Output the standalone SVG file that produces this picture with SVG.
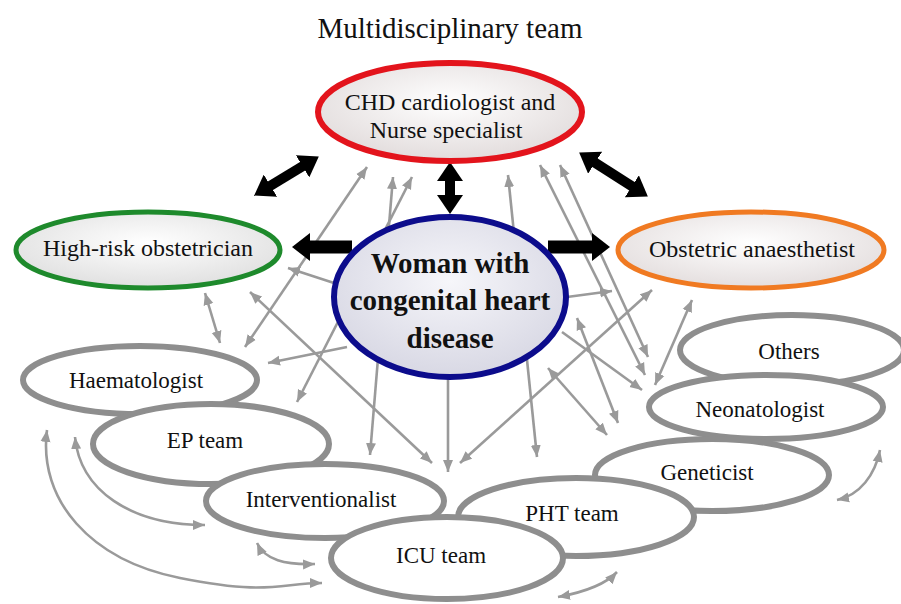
<svg xmlns="http://www.w3.org/2000/svg" width="901" height="604" viewBox="0 0 901 604">
<style>
text{font-family:"Liberation Serif","Times New Roman",serif;fill:#111;text-anchor:middle}
.lbl{font-size:24px}
.gl{font-size:23px}
.main{font-size:29px;font-weight:bold}
.g{fill:none;stroke:#9a9a9a;stroke-width:2.6}
.gn{fill:#ffffff;stroke:#8e8e8e;stroke-width:6}
.bk{fill:none;stroke:#000;stroke-width:10}
.bk2{fill:none;stroke:#000;stroke-width:13}
</style>
<defs>
<radialGradient id="fillR" cx="50%" cy="40%" r="60%"><stop offset="0" stop-color="#ffffff"/><stop offset="1" stop-color="#e2dcdc"/></radialGradient>
<radialGradient id="fillG" cx="50%" cy="40%" r="60%"><stop offset="0" stop-color="#ffffff"/><stop offset="1" stop-color="#e0e0e0"/></radialGradient>
<radialGradient id="fillO" cx="50%" cy="40%" r="60%"><stop offset="0" stop-color="#ffffff"/><stop offset="1" stop-color="#e4dede"/></radialGradient>
<radialGradient id="fillB" cx="50%" cy="40%" r="60%"><stop offset="0" stop-color="#f6f6fa"/><stop offset="1" stop-color="#d8d8e4"/></radialGradient>
<marker id="gh" viewBox="0 -5.5 12 11" refX="12" refY="0" markerWidth="12" markerHeight="11" markerUnits="userSpaceOnUse" orient="auto-start-reverse"><path d="M0,-5 L12,0 L0,5 z" fill="#9a9a9a"/></marker>
<marker id="bh" viewBox="-1 -13 19 26" refX="0" refY="0" markerWidth="19" markerHeight="26" markerUnits="userSpaceOnUse" orient="auto-start-reverse"><path d="M-1,-13 L18,0 L-1,13 z" fill="#000"/></marker>
<marker id="bh2" viewBox="-1 -14 18 28" refX="0" refY="0" markerWidth="18" markerHeight="28" markerUnits="userSpaceOnUse" orient="auto-start-reverse"><path d="M-1,-14 L17,0 L-1,14 z" fill="#000"/></marker>
</defs>
<rect width="901" height="604" fill="#ffffff"/>
<text x="450" y="38" style="font-size:29px">Multidisciplinary team</text>
<g id="connectors">
<g marker-start="url(#gh)" marker-end="url(#gh)">
<path class="g" d="M367,167 L245,347"/>
<path class="g" d="M205,293 L220,343"/>
<path class="g" d="M250,292 L432,463"/>
<path class="g" d="M412,177 L297,402"/>
<path class="g" d="M393,177 L370,455"/>
<path class="g" d="M508,175 L537,457"/>
<path class="g" d="M540,165 L645,375"/>
<path class="g" d="M560,165 L648,357"/>
<path class="g" d="M652,290 L460,463"/>
<path class="g" d="M692,300 L655,385"/>
<path class="g" d="M577,318 L618,423"/>
<path class="g" d="M548,368 L607,435"/>
<path class="g" d="M47,430 C38,500 90,560 180,578 S280,583 322,583"/>
<path class="g" d="M75,437 C80,490 130,525 205,525"/>
<path class="g" d="M257,543 C265,560 285,565 315,564"/>
<path class="g" d="M558,597 C585,592 605,585 617,572"/>
<path class="g" d="M837,500 C860,495 875,475 880,450"/>
</g>
<g marker-end="url(#gh)">
<path class="g" d="M334,283 L288,268"/>
<path class="g" d="M347,347 L268,363"/>
<path class="g" d="M567,297 L612,291"/>
<path class="g" d="M562,332 L642,390"/>
<path class="g" d="M448,378 L448,472"/>
</g>
<path class="bk" d="M303.4,165.8 L269.6,186.2" marker-start="url(#bh)" marker-end="url(#bh)"/>
<path class="bk" d="M594.3,162.2 L632.7,186.8" marker-start="url(#bh)" marker-end="url(#bh)"/>
<path class="bk" d="M450,180 L450,196" marker-start="url(#bh)" marker-end="url(#bh)"/>
<path class="bk2" d="M352,247 L309,247" marker-end="url(#bh2)"/>
<path class="bk2" d="M548,247 L593,247" marker-end="url(#bh2)"/>
</g>
<g id="node-chd">
<ellipse cx="450" cy="112" rx="132" ry="49" fill="url(#fillR)" stroke="#e3141c" stroke-width="6"/>
<text class="lbl" x="450" y="110">CHD cardiologist and</text>
<text class="lbl" x="446" y="138">Nurse specialist</text>
</g>
<g id="node-highrisk">
<ellipse cx="148" cy="250" rx="132" ry="38" fill="url(#fillG)" stroke="#1e8a2c" stroke-width="5"/>
<text class="lbl" x="148" y="256">High-risk obstetrician</text>
</g>
<g id="node-anaesthetist">
<ellipse cx="751" cy="250" rx="133" ry="38" fill="url(#fillO)" stroke="#f07a22" stroke-width="5"/>
<text class="lbl" x="752" y="257">Obstetric anaesthetist</text>
</g>
<g id="node-others">
<ellipse class="gn" cx="792" cy="350" rx="112" ry="35"/>
<text class="gl" x="789" y="359">Others</text>
</g>
<g id="node-neonatologist">
<ellipse class="gn" cx="766" cy="407" rx="117" ry="32"/>
<text class="gl" x="760" y="417">Neonatologist</text>
</g>
<g id="node-geneticist">
<ellipse class="gn" cx="712" cy="475" rx="117" ry="36"/>
<text class="gl" x="707" y="480">Geneticist</text>
</g>
<g id="node-pht">
<ellipse class="gn" cx="576" cy="517" rx="118" ry="39"/>
<text class="gl" x="572" y="521">PHT team</text>
</g>
<g id="node-haematologist">
<ellipse class="gn" cx="140" cy="380" rx="117" ry="34"/>
<text class="gl" x="136" y="388">Haematologist</text>
</g>
<g id="node-ep">
<ellipse class="gn" cx="211" cy="444" rx="118" ry="40"/>
<text class="gl" x="205" y="448">EP team</text>
</g>
<g id="node-interventionalist">
<ellipse class="gn" cx="325" cy="501" rx="119" ry="37"/>
<text class="gl" x="321" y="507">Interventionalist</text>
</g>
<g id="node-icu">
<ellipse class="gn" cx="447" cy="558" rx="116" ry="41"/>
<text class="gl" x="441" y="563">ICU team</text>
</g>
<g id="node-woman">
<ellipse cx="450" cy="297" rx="116" ry="80" fill="url(#fillB)" stroke="#0c0c8c" stroke-width="6"/>
<text class="main" x="450" y="273">Woman with</text>
<text class="main" x="450" y="310">congenital heart</text>
<text class="main" x="450" y="348">disease</text>
</g>
</svg>
